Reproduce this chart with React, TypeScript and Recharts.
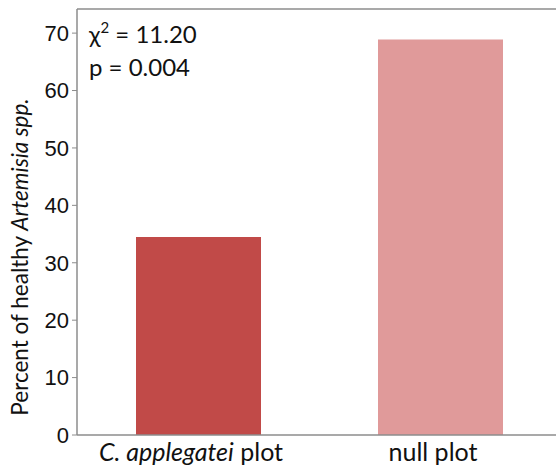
import { BarChart, Bar, XAxis, YAxis, Cell, ReferenceLine } from 'recharts';

const categories = ['C. applegatei plot', 'null plot'];
const healthyPercent = [34.5, 68.9];
const yTicks = [0, 10, 20, 30, 40, 50, 60, 70];
const barColors = ['#c14a48', '#e09a9a'];
const statLines = ['= 11.20', 'p = 0.004'];

const data = categories.map((name, i) => ({ name, value: healthyPercent[i] }));

const AXIS = '#8c8c8c';
const LABEL_FONT = 'Lato, "Noto Sans", sans-serif';

const CategoryTick = (props: any) => {
  const { x, y, payload } = props;
  const text: string = payload.value;
  const italic = text.startsWith('C. ') ? text.replace(' plot', '') : null;
  return (
    <text x={x - 7} y={y + 18} textAnchor="middle" fontFamily={LABEL_FONT} fontSize={25} fill="#111">
      {italic ? (
        <>
          <tspan fontStyle="italic">{italic}</tspan>
          <tspan> plot</tspan>
        </>
      ) : (
        text
      )}
    </text>
  );
};

const YTitle = () => (
  <text
    x={28}
    y={257}
    transform="rotate(-90 28 257)"
    textAnchor="middle"
    fontFamily={LABEL_FONT}
    fontSize={22.5}
    fill="#111"
  >
    Percent of healthy <tspan fontStyle="italic">Artemisia spp.</tspan>
  </text>
);

export default function App() {
  return (
    <div style={{ position: 'absolute', left: 0, top: 0, width: 556, height: 469, overflow: 'hidden', background: '#fff' }}>
      <BarChart width={570} height={469} data={data} margin={{ top: 9, right: 9, bottom: 0, left: 0 }} barSize={125}>
        <XAxis
          dataKey="name"
          height={34}
          tick={<CategoryTick />}
          tickLine={false}
          axisLine={{ stroke: AXIS, strokeWidth: 1.5 }}
          interval={0}
        />
        <YAxis
          width={77}
          domain={[0, 74.2]}
          ticks={yTicks}
          tickSize={5}
          tickMargin={3}
          tickLine={{ stroke: AXIS }}
          axisLine={{ stroke: AXIS, strokeWidth: 1.5 }}
          tick={{ fill: '#111', fontSize: 22, fontFamily: '"Liberation Sans", Arial, sans-serif' }}
          label={{ content: () => <YTitle /> }}
        />
        <ReferenceLine y={74.2} stroke={AXIS} strokeWidth={1.5} />
        <Bar dataKey="value" isAnimationActive={false}>
          {data.map((d, i) => (
            <Cell key={d.name} fill={barColors[i]} />
          ))}
        </Bar>
      </BarChart>
      <div
        style={{
          position: 'absolute',
          left: 89,
          top: 17,
          fontFamily: LABEL_FONT,
          fontSize: 24,
          lineHeight: '33px',
          color: '#111',
        }}
      >
        <div>
          χ<sup style={{ fontSize: 15, verticalAlign: 'top', lineHeight: '20px' }}>2</sup> {statLines[0]}
        </div>
        <div>{statLines[1]}</div>
      </div>
    </div>
  );
}
